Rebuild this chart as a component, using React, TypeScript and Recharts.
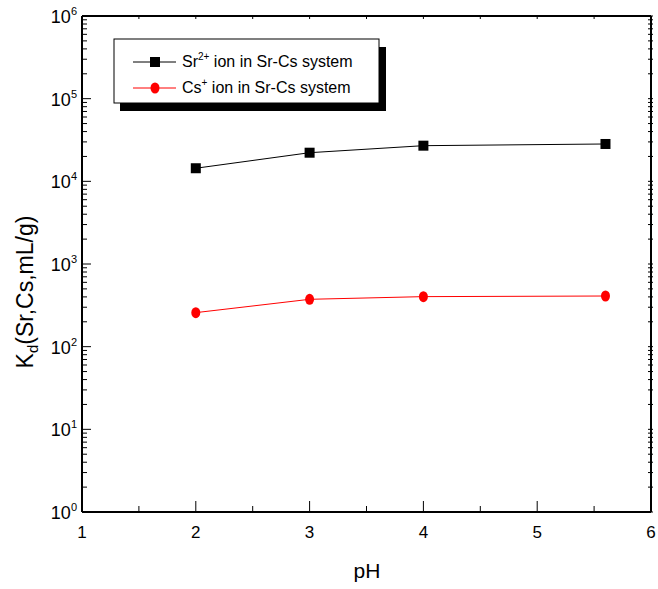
import { LineChart, Line, XAxis, YAxis } from 'recharts';

const phValues = [2, 3, 4, 5.6];
const srKd = [14400, 22200, 27000, 28300];
const csKd = [258, 374, 403, 410];

const xTicks = [1, 1.5, 2, 2.5, 3, 3.5, 4, 4.5, 5, 5.5, 6];
const decades = [1, 10, 100, 1000, 10000, 100000];
const mantissas = [1, 2, 3, 4, 5, 6, 7, 8, 9];
const yTicks = [...decades.flatMap((d) => mantissas.map((m) => m * d)), 1000000];

const chartData = phValues.map((ph, i) => ({ ph, sr: srKd[i], cs: csKd[i] }));

const FONT = '"Liberation Sans", Arial, sans-serif';

const isMajorY = (v: number) => Math.abs(Math.log10(v) - Math.round(Math.log10(v))) < 1e-9;

function LeftTick({ x, y, payload }: any) {
  const v = payload.value;
  const major = isMajorY(v);
  return (
    <g>
      <line x1={x} x2={x + (major ? 9 : 5)} y1={y} y2={y} stroke="#000" strokeWidth={1} />
      {major && (
        <text x={x - 5} y={y + 7} textAnchor="end" fontSize={18} fontFamily={FONT} fill="#000">
          10
          <tspan dy={-8} fontSize={11}>
            {Math.round(Math.log10(v))}
          </tspan>
        </text>
      )}
    </g>
  );
}

function RightTick({ x, y }: any) {
  return <line x1={x - 3} x2={x + 2} y1={y} y2={y} stroke="#000" strokeWidth={1} />;
}

function BottomTick({ x, y, payload }: any) {
  const v = payload.value;
  const major = Number.isInteger(v);
  return (
    <g>
      <line x1={x} x2={x} y1={y} y2={y - (major ? 11 : 6)} stroke="#000" strokeWidth={1} />
      {major && (
        <text x={x} y={y + 26} textAnchor="middle" fontSize={17} fontFamily={FONT} fill="#000">
          {v}
        </text>
      )}
    </g>
  );
}

function TopTick({ x, y }: any) {
  return <line x1={x} x2={x} y1={y} y2={y + 3} stroke="#000" strokeWidth={1} />;
}

function SquareDot({ cx, cy }: any) {
  return <rect x={cx - 5} y={cy - 5} width={10} height={10} fill="#000" />;
}

function CircleDot({ cx, cy }: any) {
  return <ellipse cx={cx} cy={cy} rx={4.5} ry={5.5} fill="#ff0000" />;
}

function YTitle() {
  return (
    <text
      x={33}
      y={292}
      transform="rotate(-90, 33, 292)"
      textAnchor="middle"
      fontSize={23}
      fontFamily={FONT}
      fill="#000"
    >
      K
      <tspan dy={5} fontSize={15}>
        d
      </tspan>
      <tspan dy={-5}>(Sr,Cs,mL/g)</tspan>
    </text>
  );
}

function XTitle() {
  return (
    <text x={367} y={578} textAnchor="middle" fontSize={21} fontFamily={FONT} fill="#000">
      pH
    </text>
  );
}

function LegendBox() {
  return (
    <svg
      width={658}
      height={589}
      style={{ position: 'absolute', left: 0, top: 0, pointerEvents: 'none' }}
    >
      <rect x={120} y={47} width={266} height={64} fill="#000" />
      <rect x={114} y={39} width={265} height={64} fill="#fff" stroke="#000" strokeWidth={1} />
      <line x1={133} x2={176} y1={62} y2={62} stroke="#000" strokeWidth={1} />
      <rect x={150} y={57} width={10} height={10} fill="#000" />
      <text x={182} y={67} fontSize={16} fontFamily={FONT} fill="#000">
        Sr
        <tspan dy={-7} fontSize={10}>
          2+
        </tspan>
        <tspan dy={7}> ion in Sr-Cs system</tspan>
      </text>
      <line x1={133} x2={176} y1={88} y2={88} stroke="#ff0000" strokeWidth={1} />
      <ellipse cx={155} cy={88} rx={4.5} ry={5.5} fill="#ff0000" />
      <text x={182} y={93} fontSize={16} fontFamily={FONT} fill="#000">
        Cs
        <tspan dy={-7} fontSize={10}>
          +
        </tspan>
        <tspan dy={7}> ion in Sr-Cs system</tspan>
      </text>
    </svg>
  );
}

export default function App() {
  return (
    <div style={{ position: 'absolute', left: 0, top: 0, width: 658, height: 589, background: '#fff' }}>
      <LineChart
        width={658}
        height={589}
        data={chartData}
        margin={{ top: 15, right: 6, bottom: 76, left: 81 }}
      >
        <XAxis
          dataKey="ph"
          type="number"
          domain={[1, 6]}
          ticks={xTicks}
          interval={0}
          allowDataOverflow
          height={1}
          tickSize={0}
          tickMargin={0}
          tickLine={false}
          tick={<BottomTick />}
          axisLine={{ stroke: '#000', strokeWidth: 2 }}
        />
        <XAxis
          xAxisId="top"
          orientation="top"
          dataKey="ph"
          type="number"
          domain={[1, 6]}
          ticks={xTicks}
          interval={0}
          allowDataOverflow
          height={1}
          tickSize={0}
          tickMargin={0}
          tickLine={false}
          tick={<TopTick />}
          axisLine={{ stroke: '#000', strokeWidth: 2 }}
        />
        <YAxis
          scale="log"
          type="number"
          domain={[1, 1000000]}
          ticks={yTicks}
          interval={0}
          allowDataOverflow
          width={1}
          tickSize={0}
          tickMargin={0}
          tickLine={false}
          tick={<LeftTick />}
          axisLine={{ stroke: '#000', strokeWidth: 2 }}
        />
        <YAxis
          yAxisId="right"
          orientation="right"
          scale="log"
          type="number"
          domain={[1, 1000000]}
          ticks={yTicks}
          interval={0}
          allowDataOverflow
          width={1}
          tickSize={0}
          tickMargin={0}
          tickLine={false}
          tick={<RightTick />}
          axisLine={{ stroke: '#000', strokeWidth: 2 }}
        />
        <Line
          dataKey="sr"
          stroke="#000"
          strokeWidth={1}
          dot={<SquareDot />}
          activeDot={false}
          isAnimationActive={false}
        />
        <Line
          dataKey="cs"
          stroke="#ff0000"
          strokeWidth={1}
          dot={<CircleDot />}
          activeDot={false}
          isAnimationActive={false}
        />
      </LineChart>
      <svg
        width={658}
        height={589}
        style={{ position: 'absolute', left: 0, top: 0, pointerEvents: 'none' }}
      >
        <YTitle />
        <XTitle />
      </svg>
      <LegendBox />
    </div>
  );
}
